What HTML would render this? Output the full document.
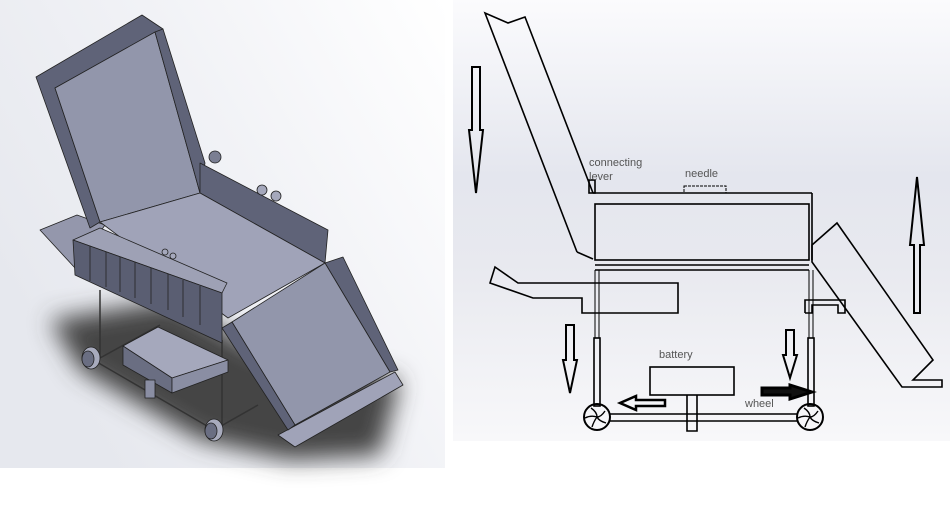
<!DOCTYPE html>
<html><head><meta charset="utf-8"><style>
html,body{margin:0;padding:0;background:#fff;width:950px;height:510px;overflow:hidden}
svg{display:block}
text{font-family:"Liberation Sans",sans-serif;font-size:11px;fill:#555}
</style></head><body>
<svg width="950" height="510" viewBox="0 0 950 510" xmlns="http://www.w3.org/2000/svg">
<defs>
<linearGradient id="gl" x1="0" y1="0.6" x2="1" y2="0">
<stop offset="0" stop-color="#e6e8ee"/><stop offset="0.5" stop-color="#f1f2f6"/><stop offset="1" stop-color="#ffffff"/>
</linearGradient>
<linearGradient id="gr" x1="0" y1="0" x2="0" y2="1">
<stop offset="0" stop-color="#fbfbfd"/><stop offset="0.4" stop-color="#e4e6ee"/><stop offset="0.6" stop-color="#e8e9ef"/><stop offset="1" stop-color="#f8f8fa"/>
</linearGradient>
<filter id="bl" x="-30%" y="-30%" width="160%" height="160%"><feGaussianBlur stdDeviation="12"/></filter>
</defs>
<!-- left panel -->
<rect x="0" y="0" width="445" height="468" fill="url(#gl)"/>
<polygon points="50,320 170,300 260,350 400,380 380,455 290,460 200,440 80,370" fill="#444" filter="url(#bl)"/>
<g stroke="#222" stroke-width="0.8" stroke-linejoin="round">
<g stroke="#333" stroke-width="1.5" fill="none">
<line x1="100" y1="290" x2="100" y2="358"/><line x1="222" y1="340" x2="222" y2="430"/>
<line x1="90" y1="358" x2="214" y2="430"/><line x1="100" y1="358" x2="160" y2="325"/>
<line x1="214" y1="430" x2="258" y2="405"/><line x1="150" y1="380" x2="150" y2="395"/>
</g>
<polygon points="123,346 158,327 228,360 172,378" fill="#a5a8bc"/>
<polygon points="123,346 172,378 172,393 123,365" fill="#6a6e82"/>
<polygon points="172,378 228,360 228,372 172,393" fill="#8a8ea3"/>
<rect x="145" y="380" width="10" height="18" fill="#8a8ea3"/>
<ellipse cx="91" cy="358" rx="9" ry="11" fill="#a8abbd"/><ellipse cx="88" cy="359" rx="6" ry="8" fill="#6a6e82"/>
<ellipse cx="214" cy="430" rx="9" ry="11" fill="#a8abbd"/><ellipse cx="211" cy="431" rx="6" ry="8" fill="#6a6e82"/>
<polygon points="40,230 77,215 105,225 75,268" fill="#9497ac"/>
<polygon points="36,77 142,15 163,29 55,88 100,222 90,228" fill="#5f6378"/>
<polygon points="55,88 155,32 200,193 100,222" fill="#9296ab"/>
<polygon points="155,32 163,29 205,163 200,193" fill="#5f6378"/>
<polygon points="200,163 328,230 325,263 200,193" fill="#5f6378"/>
<circle cx="215" cy="157" r="6" fill="#7a7e92"/>
<circle cx="262" cy="190" r="5" fill="#a5a8bc"/><circle cx="276" cy="196" r="5" fill="#a5a8bc"/>
<polygon points="100,222 200,193 325,263 228,318" fill="#a0a3b8"/>
<polygon points="73,240 100,228 227,283 222,293" fill="#9ea1b5"/>
<polygon points="73,240 222,293 222,343 75,275" fill="#5a5e72"/>
<g stroke="#222" fill="none"><line x1="90" y1="246" x2="90" y2="281"/><line x1="106" y1="252" x2="106" y2="287"/><line x1="120" y1="257" x2="120" y2="292"/><line x1="135" y1="262" x2="135" y2="298"/><line x1="151" y1="268" x2="151" y2="304"/><line x1="168" y1="274" x2="168" y2="310"/><line x1="183" y1="280" x2="183" y2="317"/><line x1="200" y1="286" x2="200" y2="325"/></g>
<circle cx="165" cy="252" r="3" fill="#a5a8bc"/><circle cx="173" cy="256" r="3" fill="#a5a8bc"/>
<polygon points="278,435 395,372 403,385 295,447" fill="#a0a3b8"/>
<polygon points="325,263 343,257 398,370 390,372" fill="#5f6378"/>
<polygon points="232,322 325,263 390,372 295,425" fill="#9296ab"/>
<polygon points="222,328 232,322 295,425 288,430" fill="#5f6378"/>
</g>
<!-- right panel -->
<rect x="453" y="0" width="497" height="441" fill="url(#gr)"/>
<g fill="none" stroke="#000" stroke-width="1.6" stroke-linejoin="miter">
<polyline points="577,252 593,259"/>
<polyline points="593,193 525,17 508,23 485,13 577,252"/>
<rect x="589" y="180" width="6" height="13"/>
<line x1="593" y1="193" x2="812" y2="193"/><line x1="812" y1="193" x2="812" y2="260"/>
<rect x="595" y="204" width="214" height="56"/>
<line x1="595" y1="265" x2="809" y2="265"/><line x1="595" y1="270" x2="809" y2="270"/>
<rect x="684" y="186" width="42" height="7" stroke-width="1" stroke-dasharray="3,1"/>
<polygon points="495,267 490,283 533,298 582,298 582,313 678,313 678,283 518,283"/>
<polygon points="812,245 837,223 933,360 913,380 942,380 942,387 902,387 812,262"/>
<polyline points="805,313 805,300 845,300 845,313 838,313 838,305 812,305 812,313 805,313"/>
<g stroke-width="1"><line x1="595" y1="270" x2="595" y2="338"/><line x1="599" y1="270" x2="599" y2="338"/><line x1="809" y1="270" x2="809" y2="338"/><line x1="813" y1="270" x2="813" y2="338"/></g>
<rect x="594" y="338" width="6" height="68"/><rect x="808" y="338" width="6" height="68"/>
<line x1="610" y1="414" x2="797" y2="414"/><line x1="610" y1="421" x2="797" y2="421"/>
<rect x="650" y="367" width="84" height="28"/>
<polyline points="687,395 687,431 697,431 697,395"/>
<circle cx="597" cy="417" r="13" stroke-width="2"/><circle cx="810" cy="417" r="13" stroke-width="2"/>
<path d="M591,408 q6,4 6,9 M605,411 q-4,6 -8,6 M606,423 q-7,-2 -9,-6 M592,427 q2,-6 5,-10 M585,418 q6,-3 12,-1 M804,408 q6,4 6,9 M818,411 q-4,6 -8,6 M819,423 q-7,-2 -9,-6 M805,427 q2,-6 5,-10 M798,418 q6,-3 12,-1" stroke-width="1.4"/>
<polygon points="472,67 480,67 480,130 483,130 476,193 469,130 472,130" stroke-width="2"/>
<polygon points="914,245 910,245 917,177 924,245 920,245 920,313 914,313" stroke-width="2"/>
<polygon points="566,325 574,325 574,360 577,360 570,393 563,360 566,360" stroke-width="2"/>
<polygon points="786,330 794,330 794,355 797,355 790,378 783,355 786,355" stroke-width="2"/>
<polygon points="665,400 665,406 636,406 636,410 620,403 636,396 636,400" stroke-width="2.5"/>
<polygon points="762,388 762,395 790,395 790,399 812,392 790,385 790,388" stroke-width="3" fill="#111"/>
</g>
<text x="589" y="166">connecting</text>
<text x="589" y="180">lever</text>
<text x="685" y="177">needle</text>
<text x="659" y="358">battery</text>
<text x="745" y="407">wheel</text>
</svg>
</body></html>
